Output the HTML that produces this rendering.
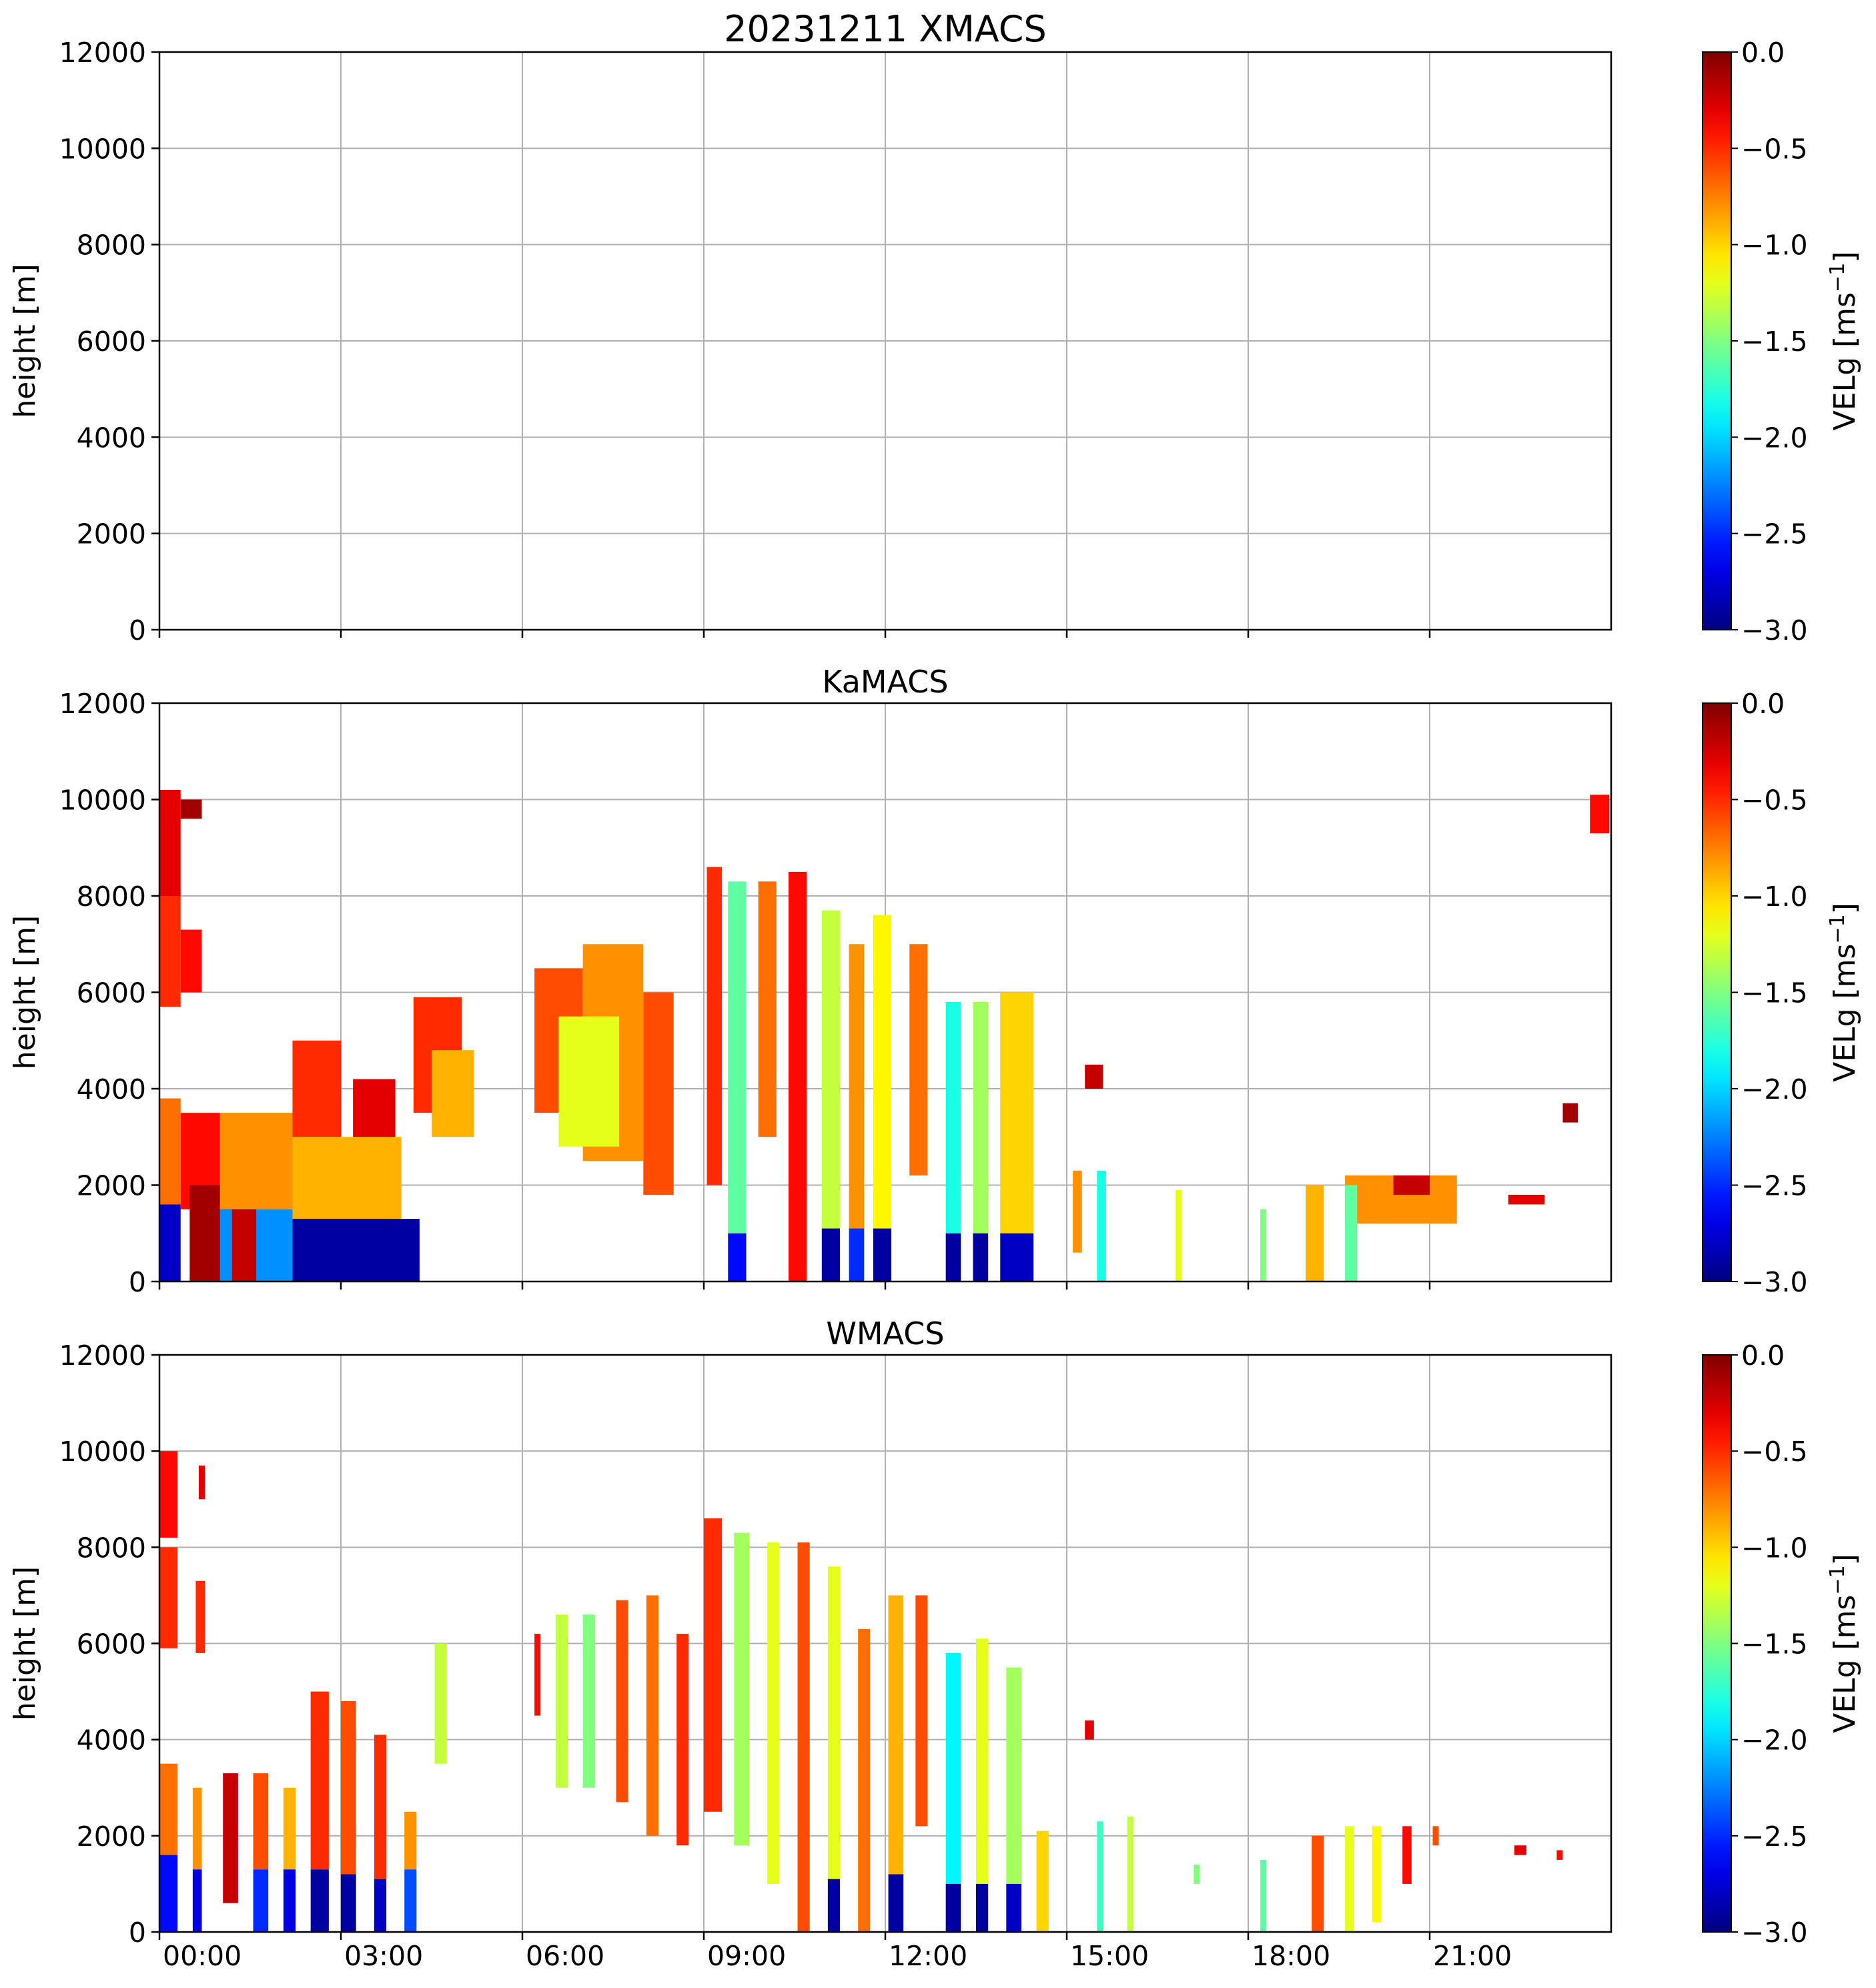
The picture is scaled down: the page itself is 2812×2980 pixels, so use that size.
<!DOCTYPE html>
<html><head><meta charset="utf-8"><style>
html,body{margin:0;padding:0;background:#fff;}
svg{display:block;font-family:"DejaVu Sans","Liberation Sans",sans-serif;}
</style></head><body>
<svg id="fig" width="2812" height="2980" viewBox="0 0 2812 2980" xmlns="http://www.w3.org/2000/svg"></svg>
<script>
// ---- data ----
const xTickLabels = ["00:00","03:00","06:00","09:00","12:00","15:00","18:00","21:00"];
const xTickHours = [0,3,6,9,12,15,18,21];
const yTicks = [0,2000,4000,6000,8000,10000,12000];
const cbTicks = [0.0,-0.5,-1.0,-1.5,-2.0,-2.5,-3.0];
const panelTitles = ["20231211 XMACS","KaMACS","WMACS"];
// segments: [startHour, endHour, baseHeight_m, topHeight_m, velocity]
const xmacsSegments = [];
const kamacsSegments = [
 [0,0.35,8000,10200,-0.3],[0,0.35,5700,8000,-0.5],[0.35,0.7,9600,10000,-0.1],[0.35,0.7,6000,7300,-0.4],
 [0,0.35,1600,3800,-0.7],[0,0.35,0,1600,-2.8],[0.35,1.0,1500,3500,-0.4],[0.5,1.2,0,2000,-0.1],
 [1.0,2.2,1500,3500,-0.8],[1.0,2.2,0,1500,-2.2],[2.2,4.0,1300,3000,-0.9],[2.2,3.0,3000,5000,-0.5],
 [3.2,3.9,3000,4200,-0.3],[2.2,4.3,0,1300,-2.9],[1.2,1.6,0,1500,-0.2],
 [4.2,5.0,3500,5900,-0.5],[4.5,5.2,3000,4800,-0.9],
 [6.2,7.0,3500,6500,-0.6],[7.0,8.0,2500,7000,-0.8],[6.6,7.6,2800,5500,-1.2],[8.0,8.5,1800,6000,-0.6],
 [9.05,9.3,2000,8600,-0.5],[9.4,9.7,1000,8300,-1.6],[9.4,9.7,0,1000,-2.6],[9.9,10.2,3000,8300,-0.7],
 [10.4,10.7,0,8500,-0.4],[10.95,11.25,1100,7700,-1.3],[10.95,11.25,0,1100,-2.9],
 [11.4,11.65,1100,7000,-0.8],[11.4,11.65,0,1100,-2.5],[11.8,12.1,1100,7600,-1.1],[11.8,12.1,0,1100,-2.9],
 [12.4,12.7,2200,7000,-0.7],[13.0,13.25,1000,5800,-1.8],[13.0,13.25,0,1000,-2.9],
 [13.45,13.7,1000,5800,-1.4],[13.45,13.7,0,1000,-2.9],[13.9,14.45,1000,6000,-1.0],[13.9,14.45,0,1000,-2.8],
 [15.1,15.25,600,2300,-0.8],[15.5,15.65,0,2300,-1.8],[15.3,15.6,4000,4500,-0.2],
 [16.8,16.9,0,1900,-1.2],[18.2,18.3,0,1500,-1.5],[18.95,19.25,0,2000,-0.9],
 [19.6,21.45,1200,2200,-0.8],[19.6,19.8,0,2000,-1.6],[20.4,21.0,1800,2200,-0.2],
 [22.3,22.9,1600,1800,-0.3],[23.2,23.45,3300,3700,-0.1],[23.65,23.97,9300,10100,-0.4]
];
const wmacsSegments = [
 [0,0.3,8200,10000,-0.4],[0,0.3,5900,8000,-0.5],[0.6,0.75,5800,7300,-0.5],[0.65,0.75,9000,9700,-0.3],
 [0,0.3,1600,3500,-0.7],[0,0.3,0,1600,-2.6],[0.55,0.7,1300,3000,-0.8],[0.55,0.7,0,1300,-2.7],
 [1.05,1.3,600,3300,-0.2],[1.55,1.8,1300,3300,-0.6],[1.55,1.8,0,1300,-2.5],
 [2.05,2.25,1300,3000,-0.9],[2.05,2.25,0,1300,-2.7],[2.5,2.8,1300,5000,-0.5],[2.5,2.8,0,1300,-2.9],
 [3.0,3.25,1200,4800,-0.6],[3.0,3.25,0,1200,-2.9],[3.55,3.75,1100,4100,-0.5],[3.55,3.75,0,1100,-2.8],
 [4.05,4.25,1300,2500,-0.8],[4.05,4.25,0,1300,-2.4],[4.55,4.75,3500,6000,-1.3],
 [6.2,6.3,4500,6200,-0.4],[6.55,6.75,3000,6600,-1.3],[7.0,7.2,3000,6600,-1.5],[7.55,7.75,2700,6900,-0.6],
 [8.05,8.25,2000,7000,-0.7],[8.55,8.75,1800,6200,-0.5],
 [9.0,9.3,2500,8600,-0.5],[9.5,9.75,1800,8300,-1.4],[10.05,10.25,1000,8100,-1.2],[10.55,10.75,0,8100,-0.6],
 [11.05,11.25,1100,7600,-1.2],[11.05,11.25,0,1100,-2.9],[11.55,11.75,0,6300,-0.7],
 [12.05,12.3,1200,7000,-0.9],[12.05,12.3,0,1200,-2.9],[12.5,12.7,2200,7000,-0.6],
 [13.0,13.25,1000,5800,-1.9],[13.0,13.25,0,1000,-2.9],[13.5,13.7,1000,6100,-1.2],[13.5,13.7,0,1000,-2.9],
 [14.0,14.25,1000,5500,-1.4],[14.0,14.25,0,1000,-2.8],[14.5,14.7,0,2100,-1.0],
 [15.3,15.45,4000,4400,-0.3],[15.5,15.6,0,2300,-1.7],[16.0,16.1,0,2400,-1.3],[17.1,17.2,1000,1400,-1.5],
 [18.2,18.3,0,1500,-1.6],[19.05,19.25,0,2000,-0.6],[19.6,19.75,0,2200,-1.2],[20.05,20.2,200,2200,-1.1],
 [20.55,20.7,1000,2200,-0.4],[21.05,21.15,1800,2200,-0.6],[22.4,22.6,1600,1800,-0.3],[23.1,23.2,1500,1700,-0.4]
];
const panelData = [xmacsSegments, kamacsSegments, wmacsSegments];

// ---- layout ----
const NS="http://www.w3.org/2000/svg";
const svg=document.getElementById('fig');
const L=239,R=2415;
const panels=[{top:78,bot:944},{top:1054,bot:1921},{top:2031,bot:2896}];
const CBL=2552,CBR=2595;
function mk(tag,attrs,parent){const e=document.createElementNS(NS,tag);for(const k in attrs)e.setAttribute(k,attrs[k]);(parent||svg).appendChild(e);return e;}
function jet(t){t=Math.max(0,Math.min(1,t));
 const r=Math.max(0,Math.min(1,Math.min(4*t-1.5,-4*t+4.5)));
 const g=Math.max(0,Math.min(1,Math.min(4*t-0.5,-4*t+3.5)));
 const b=Math.max(0,Math.min(1,Math.min(4*t+0.5,-4*t+2.5)));
 return `rgb(${Math.round(r*255)},${Math.round(g*255)},${Math.round(b*255)})`;}
function vcol(v){return jet((v+3)/3);}

const defs=mk('defs',{});
const grad=mk('linearGradient',{id:'jetgrad',x1:0,y1:1,x2:0,y2:0},defs);
for(let i=0;i<=20;i++){mk('stop',{offset:(i/20),'stop-color':jet(i/20)},grad);}

panels.forEach((p,pi)=>{
 const xs=h=>L+(R-L)*h/24;
 const ys=m=>p.bot-(p.bot-p.top)*m/12000;
 const g=mk('g',{});
 
 
 xTickHours.slice(1).forEach(h=>{const l=mk('line',{x1:xs(h),x2:xs(h),y1:p.top,y2:p.bot,stroke:'#b0b0b0','stroke-width':2},g);
  });
 yTicks.slice(1,-1).forEach(m=>{const l=mk('line',{x1:L,x2:R,y1:ys(m),y2:ys(m),stroke:'#b0b0b0','stroke-width':2},g);
  });
 panelData[pi].forEach(s=>{
  const r=mk('rect',{x:xs(s[0]),y:ys(s[3]),width:Math.max(2,xs(s[1])-xs(s[0])),height:ys(s[2])-ys(s[3]),fill:vcol(s[4])},g);
  
  
 });
 const fr=mk('rect',{x:L,y:p.top,width:R-L,height:p.bot-p.top,fill:'none',stroke:'#000','stroke-width':2.5},g);
 
 yTicks.forEach(m=>{mk('line',{x1:L-12,x2:L,y1:ys(m),y2:ys(m),stroke:'#000','stroke-width':2.5},g);
  const t=mk('text',{x:L-20,y:ys(m)+15,'text-anchor':'end','font-size':41},g);t.textContent=m;
  });
 xTickHours.forEach((h,i)=>{mk('line',{x1:xs(h),x2:xs(h),y1:p.bot,y2:p.bot+12,stroke:'#000','stroke-width':2.5},g);
  if(pi===2){const t=mk('text',{x:xs(h)+5,y:p.bot+50,'font-size':41},g);t.textContent=xTickLabels[i];
   }});
 const yl=mk('text',{x:0,y:0,'font-size':44,'text-anchor':'middle',transform:`translate(52,${(p.top+p.bot)/2}) rotate(-90)`},g);
 yl.textContent='height [m]';
 const tt=mk('text',{x:(L+R)/2,y:p.top-16,'text-anchor':'middle','font-size':pi===0?54:46},g);
 tt.textContent=panelTitles[pi];
 const cb=mk('g',{},g);
 mk('rect',{x:CBL,y:p.top,width:CBR-CBL,height:p.bot-p.top,fill:'url(#jetgrad)',stroke:'#000','stroke-width':2},cb);
 cbTicks.forEach(v=>{const y=p.top+(p.bot-p.top)*(-v/3);
  mk('line',{x1:CBR,x2:CBR+10,y1:y,y2:y,stroke:'#000','stroke-width':2},cb);
  const t=mk('text',{x:CBR+15,y:y+15,'font-size':41},cb);t.textContent=(v===0?'0.0':'\u2212'+Math.abs(v).toFixed(1));
  });
 const cl=mk('text',{x:0,y:0,'font-size':44,'text-anchor':'middle',transform:`translate(2780,${(p.top+p.bot)/2}) rotate(-90)`},cb);
 cl.innerHTML='VELg [ms<tspan dy="-16" font-size="30">\u22121</tspan><tspan dy="16">]</tspan>';
 
});
</script>
</body></html>
